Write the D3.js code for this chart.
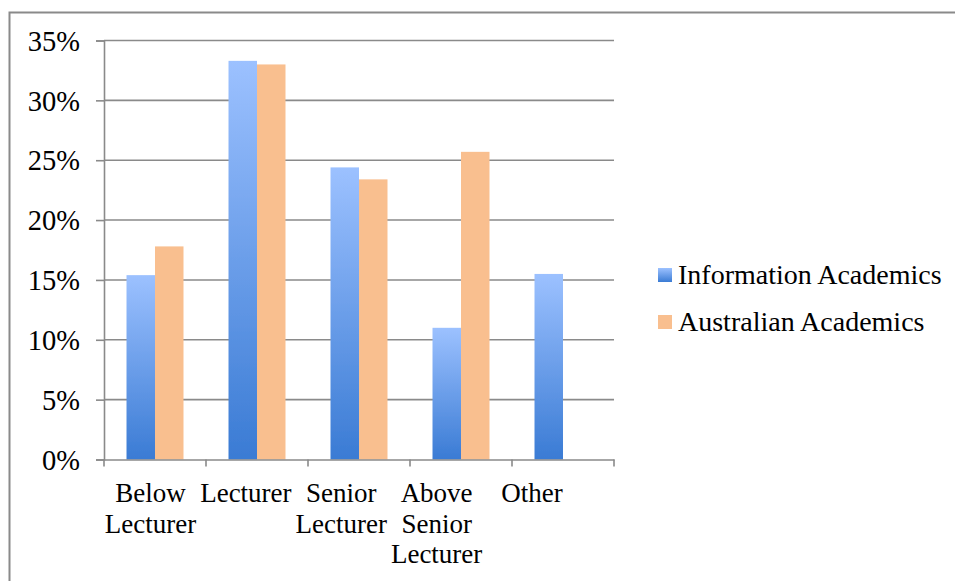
<!DOCTYPE html>
<html>
<head>
<meta charset="utf-8">
<script src="https://cdn.jsdelivr.net/npm/d3@7"></script>
<style>
  html, body { margin: 0; padding: 0; background: #fff; }
  svg { display: block; }
  text { font-family: "Liberation Serif", "Times New Roman", serif; fill: #000; }
</style>
</head>
<body>
<svg id="chart" width="955" height="581"></svg>
<script>
const categories = [["Below", "Lecturer"], ["Lecturer"], ["Senior", "Lecturer"], ["Above", "Senior", "Lecturer"], ["Other"]];
const categoryKeys = ["Below Lecturer", "Lecturer", "Senior Lecturer", "Above Senior Lecturer", "Other"];
const seriesNames = ["Information Academics", "Australian Academics"];
const informationAcademics = [15.4, 33.3, 24.4, 11.0, 15.5];
const australianAcademics = [17.8, 33.0, 23.4, 25.7, 0];
const yTicks = [0, 5, 10, 15, 20, 25, 30, 35];

const svg = d3.select("#chart");
const W = 955, H = 581;
const plot = { left: 104, right: 614, top: 40.5, bottom: 459.5 };

const defs = svg.append("defs");
const grad = defs.append("linearGradient").attr("id", "blueGrad")
  .attr("x1", 0).attr("y1", 0).attr("x2", 0).attr("y2", 1);
grad.append("stop").attr("offset", "0%").attr("stop-color", "#9CC1FF");
grad.append("stop").attr("offset", "100%").attr("stop-color", "#3A7BD4");
const lgrad = defs.append("linearGradient").attr("id", "blueGradL")
  .attr("x1", 0).attr("y1", 0).attr("x2", 0).attr("y2", 1);
lgrad.append("stop").attr("offset", "0%").attr("stop-color", "#9CC1FF");
lgrad.append("stop").attr("offset", "100%").attr("stop-color", "#3A7BD4");
const blur = defs.append("filter").attr("id", "soft").attr("x", "-20%").attr("y", "-5%").attr("width", "140%").attr("height", "110%");
blur.append("feGaussianBlur").attr("stdDeviation", 0.6);

// outer border
svg.append("path")
  .attr("d", `M9.5,${H + 2} L9.5,12.5 L${W + 2},12.5`)
  .attr("fill", "none").attr("stroke", "#8a8a8a").attr("stroke-width", 2);

const x = d3.scaleBand().domain(categoryKeys).range([plot.left, plot.right]).paddingInner(0).paddingOuter(0);
const inner = d3.scaleBand().domain(seriesNames).range([0, x.bandwidth()]).paddingInner(0).paddingOuter(0.79);
const y = d3.scaleLinear().domain([0, 35]).range([plot.bottom, plot.top]);

// gridlines
svg.append("g").selectAll("line").data(yTicks.filter(d => d > 0)).join("line")
  .attr("x1", plot.left).attr("x2", plot.right)
  .attr("y1", d => y(d)).attr("y2", d => y(d))
  .attr("stroke", "#8a8a8a").attr("stroke-width", 1.6);

// bars
const colors = { "Information Academics": "url(#blueGrad)", "Australian Academics": "#F9BF8F" };
const rows = categoryKeys.map((c, i) => ({ c, vals: [
  { s: seriesNames[0], v: informationAcademics[i] },
  { s: seriesNames[1], v: australianAcademics[i] }] }));
const groups = svg.append("g").selectAll("g").data(rows).join("g")
  .attr("transform", d => `translate(${x(d.c)},0)`);
groups.selectAll("rect").data(d => d.vals.filter(e => e.v > 0)).join("rect")
  .attr("x", d => inner(d.s))
  .attr("width", inner.bandwidth())
  .attr("y", d => y(d.v))
  .attr("height", d => y(0) - y(d.v))
  .attr("fill", d => colors[d.s])
  .attr("filter", "url(#soft)");

// y axis
const yAxis = d3.axisLeft(y).tickValues(yTicks).tickSize(8).tickFormat(d => d + "%").tickPadding(16);
const ya = svg.append("g").attr("transform", `translate(${plot.left},0)`).call(yAxis);
ya.select(".domain").attr("stroke", "#8a8a8a").attr("stroke-width", 1.6);
ya.selectAll(".tick line").attr("stroke", "#8a8a8a").attr("stroke-width", 1.6);
ya.selectAll(".tick text").attr("font-size", 28.5).attr("font-family", "Liberation Serif").attr("dy", "0.34em").attr("fill", "#000");

// x axis
const xAxis = d3.axisBottom(x).tickValues([]).tickSizeOuter(0);
const xa = svg.append("g").attr("transform", `translate(0,${plot.bottom})`).call(xAxis);
xa.select(".domain").attr("stroke", "#8a8a8a").attr("stroke-width", 1.6);
const boundaries = categoryKeys.map(c => x(c)).concat([plot.right]);
xa.selectAll("line.bt").data(boundaries).join("line").attr("class", "bt")
  .attr("x1", d => d).attr("x2", d => d).attr("y1", 0).attr("y2", 7)
  .attr("stroke", "#8a8a8a").attr("stroke-width", 1.6);

// category labels (observed label positions)
const lx = d3.scalePoint().domain(categoryKeys).range([150.5, 532]);
const lab = svg.append("g").selectAll("text").data(categoryKeys).join("text")
  .attr("text-anchor", "middle").attr("font-size", 27)
  .attr("x", d => lx(d)).attr("y", 502);
lab.each(function(d, i) {
  const t = d3.select(this);
  categories[i].forEach((line, j) => {
    t.append("tspan").attr("x", lx(d)).attr("dy", j === 0 ? 0 : 30.5).text(line);
  });
});

// legend
const legend = svg.append("g");
const ly = d3.scalePoint().domain(seriesNames).range([284, 331]);
const legendFill = { "Information Academics": "url(#blueGradL)", "Australian Academics": "#F9BF8F" };
legend.selectAll("rect").data(seriesNames).join("rect")
  .attr("x", 658).attr("y", d => ly(d) - 16).attr("width", 14).attr("height", 14)
  .attr("fill", d => legendFill[d]);
legend.selectAll("text").data(seriesNames).join("text")
  .attr("x", 678).attr("y", d => ly(d)).attr("font-size", 28).text(d => d);
</script>
</body>
</html>
